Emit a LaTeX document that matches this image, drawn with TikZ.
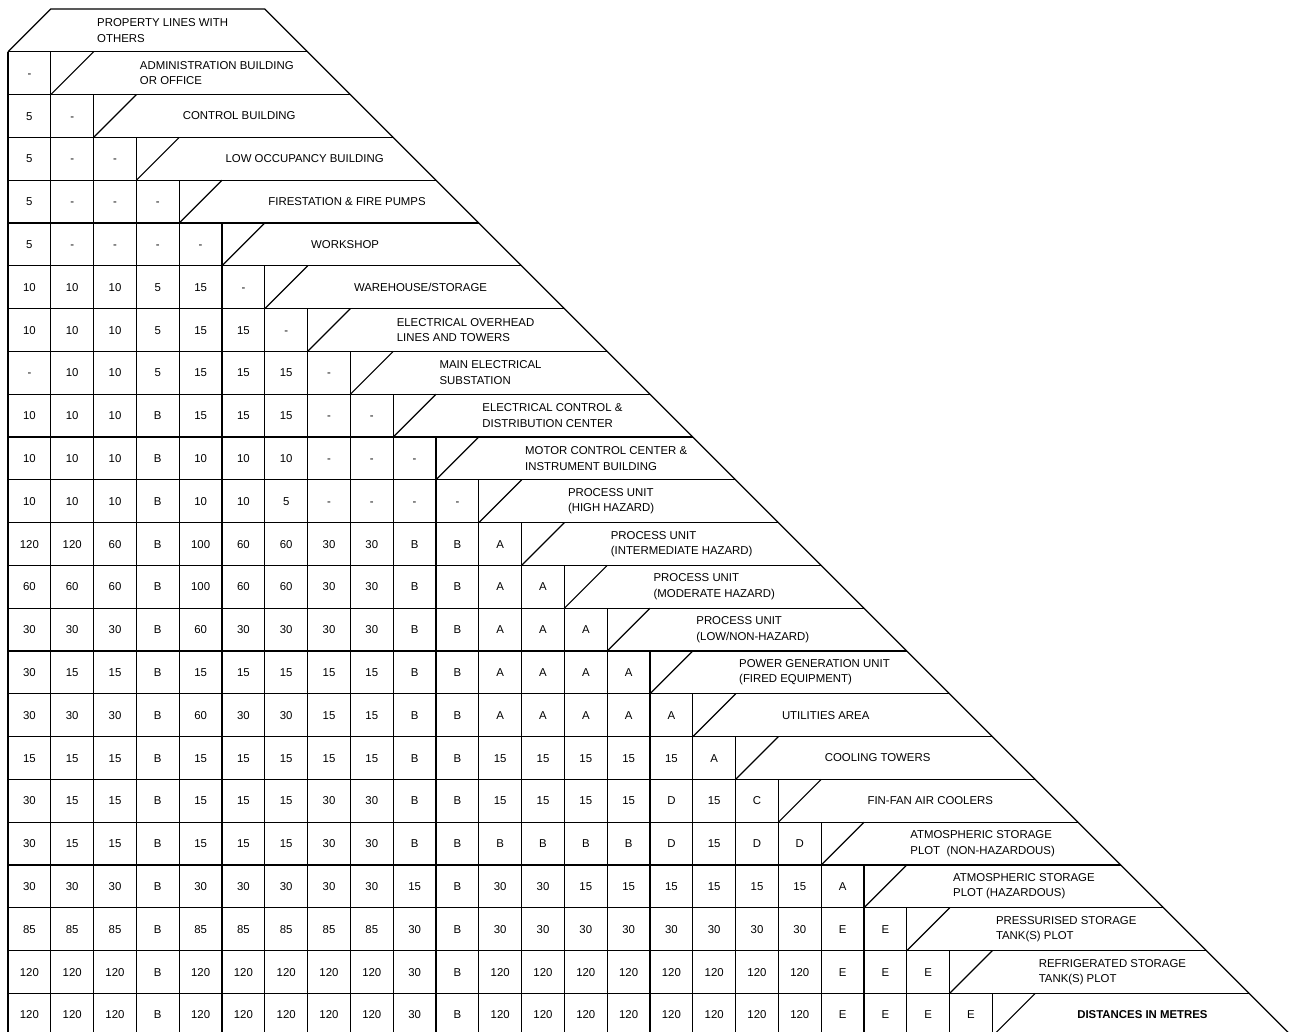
\documentclass[tikz,border=0pt]{standalone}
\usepackage{fontspec}
\setmainfont{Liberation Sans}
\begin{document}
\begin{tikzpicture}[x=21.4pt,y=-21.4pt,line width=0.6pt,
  cell/.style={inner sep=0pt,anchor=base,font=\fontsize{5.7}{7}\selectfont},
  hdr/.style={anchor=west,align=left,inner sep=0pt,font=\fontsize{5.7}{7.75}\selectfont},
  hdrbold/.style={anchor=west,inner sep=0pt,font=\fontsize{5.7}{7.75}\selectfont\bfseries}]
\useasboundingbox (-0.18692,-0.21028) rectangle (29.95327,23.90187);
\begin{scope}
\clip (-0.18692,-0.21028) rectangle (29.95327,23.90187);
% top header and right diagonal
\draw (0,1) -- (1,0) -- (6,0) -- (30,24);
% horizontal lines
\foreach \k in {1,...,24} {
  \pgfmathtruncatemacro\e{6+\k}
  \draw (0,\k) -- (\e,\k);
}
% header slants
\foreach \i in {1,...,23} {
  \draw (\i,\i+1) -- (\i+1,\i);
}
% vertical lines
\draw (0,1) -- (0,24);
\foreach \j in {1,...,23} {
  \draw (\j,\j) -- (\j,24);
}
\end{scope}
% cell values
\foreach \vals [count=\i] in {
 {-},
 {5,-},
 {5,-,-},
 {5,-,-,-},
 {5,-,-,-,-},
 {10,10,10,5,15,-},
 {10,10,10,5,15,15,-},
 {-,10,10,5,15,15,15,-},
 {10,10,10,B,15,15,15,-,-},
 {10,10,10,B,10,10,10,-,-,-},
 {10,10,10,B,10,10,5,-,-,-,-},
 {120,120,60,B,100,60,60,30,30,B,B,A},
 {60,60,60,B,100,60,60,30,30,B,B,A,A},
 {30,30,30,B,60,30,30,30,30,B,B,A,A,A},
 {30,15,15,B,15,15,15,15,15,B,B,A,A,A,A},
 {30,30,30,B,60,30,30,15,15,B,B,A,A,A,A,A},
 {15,15,15,B,15,15,15,15,15,B,B,15,15,15,15,15,A},
 {30,15,15,B,15,15,15,30,30,B,B,15,15,15,15,D,15,C},
 {30,15,15,B,15,15,15,30,30,B,B,B,B,B,B,D,15,D,D},
 {30,30,30,B,30,30,30,30,30,15,B,30,30,15,15,15,15,15,15,A},
 {85,85,85,B,85,85,85,85,85,30,B,30,30,30,30,30,30,30,30,E,E},
 {120,120,120,B,120,120,120,120,120,30,B,120,120,120,120,120,120,120,120,E,E,E},
 {120,120,120,B,120,120,120,120,120,30,B,120,120,120,120,120,120,120,120,E,E,E,E}} {
  \foreach \v [count=\j from 0] in \vals {
    \node[cell] (c\i-\j) at (\j+0.5,\i+0.596) {\v};
  }
}
% header labels
\foreach \t [count=\i from 0] in {
 {PROPERTY LINES WITH\\OTHERS},
 {ADMINISTRATION BUILDING\\OR OFFICE},
 {CONTROL BUILDING},
 {LOW OCCUPANCY BUILDING},
 {FIRESTATION \& FIRE PUMPS},
 {WORKSHOP},
 {WAREHOUSE/STORAGE},
 {ELECTRICAL OVERHEAD\\LINES AND TOWERS},
 {MAIN ELECTRICAL\\SUBSTATION},
 {ELECTRICAL CONTROL \&\\DISTRIBUTION CENTER},
 {MOTOR CONTROL CENTER \&\\INSTRUMENT BUILDING},
 {PROCESS UNIT\\(HIGH HAZARD)},
 {PROCESS UNIT\\(INTERMEDIATE HAZARD)},
 {PROCESS UNIT\\(MODERATE HAZARD)},
 {PROCESS UNIT\\(LOW/NON-HAZARD)},
 {POWER GENERATION UNIT\\(FIRED EQUIPMENT)},
 {UTILITIES AREA},
 {COOLING TOWERS},
 {FIN-FAN AIR COOLERS},
 {ATMOSPHERIC STORAGE\\PLOT~~(NON-HAZARDOUS)},
 {ATMOSPHERIC STORAGE\\PLOT (HAZARDOUS)},
 {PRESSURISED STORAGE\\TANK(S) PLOT},
 {REFRIGERATED STORAGE\\TANK(S) PLOT}} {
  \node[hdr] (h\i) at (\i+2.07,\i+0.5) {\t};
}
\node[hdrbold] (h23) at (24.97,23.5) {DISTANCES IN METRES};
\end{tikzpicture}
\end{document}
